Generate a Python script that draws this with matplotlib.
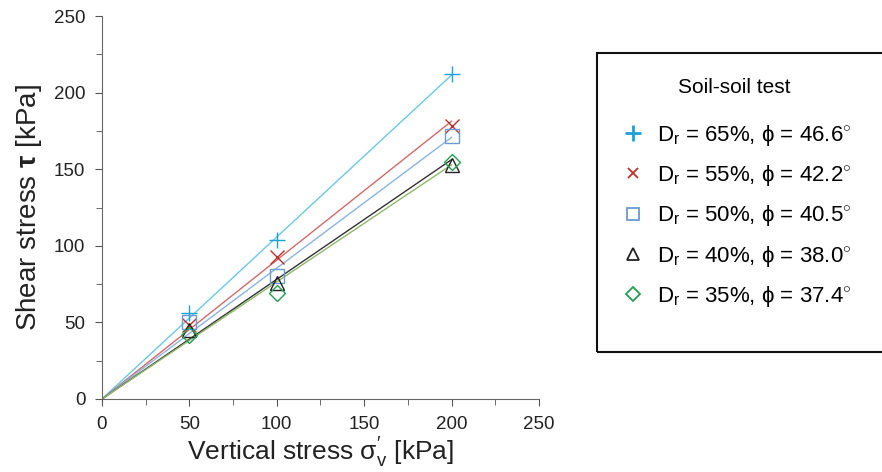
import numpy as np
import matplotlib
matplotlib.use("Agg")
import matplotlib.pyplot as plt
from matplotlib.lines import Line2D
from matplotlib.patches import Rectangle

plt.rcParams['font.family'] = ['Liberation Sans', 'DejaVu Sans']
plt.rcParams['mathtext.fontset'] = 'custom'
plt.rcParams['mathtext.rm'] = 'Liberation Sans'
plt.rcParams['mathtext.it'] = 'Liberation Sans:italic'
plt.rcParams['mathtext.bf'] = 'Liberation Sans:bold'

# test data
stress = [50, 100, 200]
dr = ['65%', '55%', '50%', '40%', '35%']
phi = [46.6, 42.2, 40.5, 38.0, 37.4]
tau_65 = [56, 104, 212]
tau_55 = [48, 93, 178]
tau_50 = [50, 80, 172]
tau_40 = [45, 76, 153]
tau_35 = [42, 69, 155]
taus = [tau_65, tau_55, tau_50, tau_40, tau_35]

markers = ['+', 'x', 's', '^', 'D']
msizes = [11, 10, 10, 10, 8]
lsizes = [11, 7, 9, 8, 7]
mcolors = ['#1ba1d8', '#c0302b', '#6a9ad0', '#222222', '#23a050']
lcolors = ['#6cc8e4', '#d06a6a', '#8ab4e0', '#333333', '#8fb86a']

fig = plt.figure(figsize=(8.82, 4.72), dpi=100)
ax = fig.add_axes([0.1156, 0.1547, 0.4955, 0.8113])

# failure envelopes through the origin, tau = sigma * tan(phi)
xl = np.array([0, 200])
for p, lc in zip(phi, lcolors):
    ax.plot(xl, xl * np.tan(np.radians(p)), color=lc, lw=1.0, zorder=2)

handles = []
for t, m, ms, lms, mc, d, p in zip(taus, markers, msizes, lsizes, mcolors, dr, phi):
    hollow = m in ['s', '^', 'D']
    ax.plot(stress, t, ls='none', marker=m, ms=ms, mew=1.0,
            mec=mc, mfc='none' if hollow else mc, zorder=3)
    label = 'D$_\\mathrm{r}$ = %s, ϕ = %.1f$^{\\circ}$' % (d, p)
    handles.append(Line2D([], [], ls='none', marker=m, ms=lms,
                          mew=2.0 if m == '+' else 1.3,
                          mec=mc, mfc='none' if hollow else mc, label=label))

ax.set_xlim(0, 250)
ax.set_ylim(0, 250)
ax.set_xticks(np.arange(0, 251, 50))
ax.set_yticks(np.arange(0, 251, 50))
ax.set_xticks(np.arange(25, 250, 50), minor=True)
ax.set_yticks(np.arange(25, 250, 50), minor=True)
ax.tick_params(which='both', direction='out', colors='#555555', labelcolor='#222222', labelsize=13.5)
ax.tick_params(which='major', length=5, pad=7)
ax.tick_params(which='minor', length=4)
for s in ['top', 'right']:
    ax.spines[s].set_visible(False)
for s in ['left', 'bottom']:
    ax.spines[s].set_color('#666666')

ax.set_xlabel("Vertical stress σ$_{\\mathrm{v}}^{\\prime}$ [kPa]", fontsize=19, color='#222222', labelpad=2)
ax.set_ylabel('Shear stress $\\mathbf{τ}$ [kPa]', fontsize=20, color='#222222', labelpad=7)

# legend box (runs off the right edge like the original)
fig.patches.append(Rectangle((597 / 882, 1 - 352 / 472), 300 / 882, 299 / 472,
                             transform=fig.transFigure, fill=False,
                             ec='#111111', lw=1.5, clip_on=False))
leg = fig.legend(handles=handles, loc='upper left', bbox_to_anchor=(0.688, 0.858),
                 title='Soil-soil test', fontsize=16, title_fontsize=15,
                 frameon=False, labelspacing=0.69, handletextpad=0.35,
                 handlelength=1.4, borderpad=0.5, borderaxespad=0)
leg._legend_box.align = 'center'
leg._legend_box.sep = 18.5

fig.savefig('out.png', dpi=100)
